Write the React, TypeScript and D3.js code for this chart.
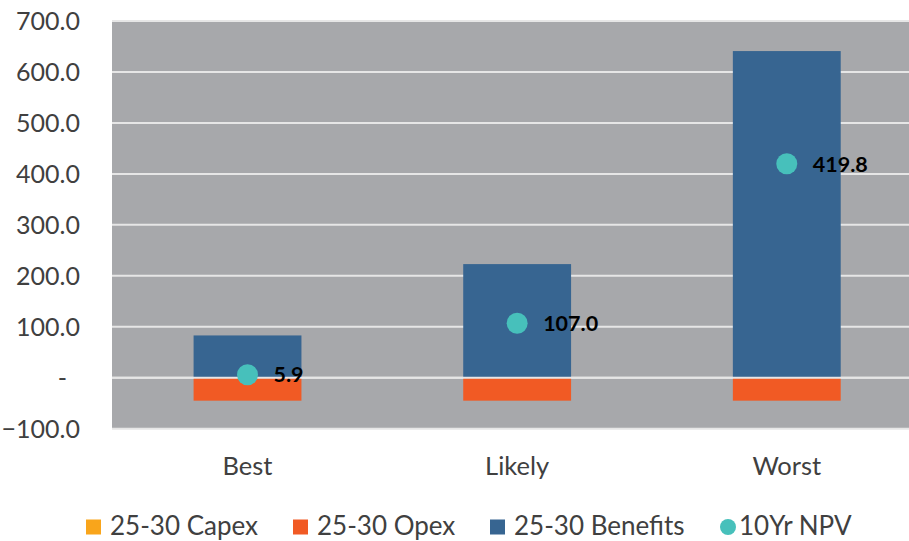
import React from "react";
import * as d3 from "d3";

// Scenario categories and series values (millions)
const categories = ["Best", "Likely", "Worst"];
const capex = [0, 0, 0];
const opex = [-45, -45, -45];
const benefits = [83, 223, 641];
const npv = [5.9, 107.0, 419.8];
const yTicks = [-100, 0, 100, 200, 300, 400, 500, 600, 700];

const seriesNames = ["25-30 Capex", "25-30 Opex", "25-30 Benefits", "10Yr NPV"];

const COLORS = {
  capex: "#f9a51b",
  opex: "#f15a24",
  benefits: "#376591",
  npv: "#47c0bb",
  plotBg: "#a7a8ab",
  grid: "#e6e6e6",
  text: "#404040",
};

const W = 909;
const H = 541;
const plot = { left: 112.7, right: 921.6, top: 21, bottom: 428.7 };
const FONT = "Lato, 'Open Sans', sans-serif";

export default function App() {
  const x = d3
    .scaleBand<string>()
    .domain(categories)
    .range([plot.left, plot.right])
    .paddingInner(0.6)
    .paddingOuter(0.3);

  const y = d3.scaleLinear().domain([-100, 700]).range([plot.bottom, plot.top]);

  const fmt = (v: number) => (v === 0 ? "-" : d3.format(".1f")(v));

  // stacked: positives stack upward from 0, negatives stack downward from 0
  const stacks = categories.map((c, i) => {
    const segs: { key: string; y0: number; y1: number; color: string }[] = [];
    let pos = 0;
    let neg = 0;
    const add = (key: string, v: number, color: string) => {
      if (v >= 0) {
        segs.push({ key, y0: pos, y1: pos + v, color });
        pos += v;
      } else {
        segs.push({ key, y0: neg + v, y1: neg, color });
        neg += v;
      }
    };
    add("capex", capex[i], COLORS.capex);
    add("opex", opex[i], COLORS.opex);
    add("benefits", benefits[i], COLORS.benefits);
    return { c, segs };
  });

  const legendX = [86, 293, 490, 720];
  const legendColors = [COLORS.capex, COLORS.opex, COLORS.benefits, COLORS.npv];

  return (
    <div style={{ position: "absolute", left: 0, top: 0 }}>
      <svg width={W} height={H} style={{ display: "block", background: "#fff" }}>
        <defs>
          <clipPath id="plotClip">
            <rect x={0} y={0} width={W} height={H} />
          </clipPath>
        </defs>
        <g clipPath="url(#plotClip)">
          <rect
            x={plot.left - 0.7}
            y={plot.top}
            width={plot.right - plot.left}
            height={plot.bottom - plot.top}
            fill={COLORS.plotBg}
          />
          {yTicks.map((t) => (
            <line
              key={t}
              x1={plot.left - 0.7}
              x2={plot.right}
              y1={y(t)}
              y2={y(t)}
              stroke={COLORS.grid}
              strokeWidth={2}
            />
          ))}
          {stacks.map(({ c, segs }) =>
            segs.map((s) =>
              s.y1 - s.y0 === 0 ? null : (
                <rect
                  key={c + s.key}
                  x={x(c)}
                  width={x.bandwidth()}
                  y={y(s.y1)}
                  height={y(s.y0) - y(s.y1)}
                  fill={s.color}
                />
              )
            )
          )}
          <line
            x1={plot.left - 0.7}
            x2={plot.right}
            y1={y(0)}
            y2={y(0)}
            stroke={COLORS.grid}
            strokeWidth={2}
          />
          {categories.map((c, i) => {
            const cx = (x(c) as number) + x.bandwidth() / 2;
            const cy = y(npv[i]);
            return (
              <g key={c + "npv"}>
                <circle cx={cx} cy={cy} r={10.5} fill={COLORS.npv} />
                <text
                  x={cx + 26}
                  y={cy}
                  dy="0.36em"
                  fontFamily={FONT}
                  fontWeight={700}
                  fontSize={21.5}
                  fill="#000"
                >
                  {npv[i].toFixed(1)}
                </text>
              </g>
            );
          })}
        </g>

        {/* y axis labels */}
        {yTicks.map((t) => (
          <text
            key={"yl" + t}
            x={t === 0 ? 67 : 80}
            y={y(t)}
            dy="0.36em"
            textAnchor="end"
            fontFamily={FONT}
            fontSize={25}
            fill={COLORS.text}
          >
            {fmt(t)}
          </text>
        ))}

        {/* category labels */}
        {categories.map((c) => (
          <text
            key={"xl" + c}
            x={(x(c) as number) + x.bandwidth() / 2}
            y={475}
            textAnchor="middle"
            fontFamily={FONT}
            fontSize={25.5}
            fill={COLORS.text}
          >
            {c}
          </text>
        ))}

        {/* legend */}
        {seriesNames.map((name, i) => (
          <g key={name} transform={`translate(${legendX[i]},0)`}>
            {i === 3 ? (
              <circle cx={8} cy={527} r={8} fill={legendColors[i]} />
            ) : (
              <rect x={0} y={519.5} width={15} height={15} fill={legendColors[i]} />
            )}
            <text
              x={i === 3 ? 19 : 24}
              y={535}
              fontFamily={FONT}
              fontSize={26}
              fill={COLORS.text}
            >
              {name}
            </text>
          </g>
        ))}
      </svg>
    </div>
  );
}
